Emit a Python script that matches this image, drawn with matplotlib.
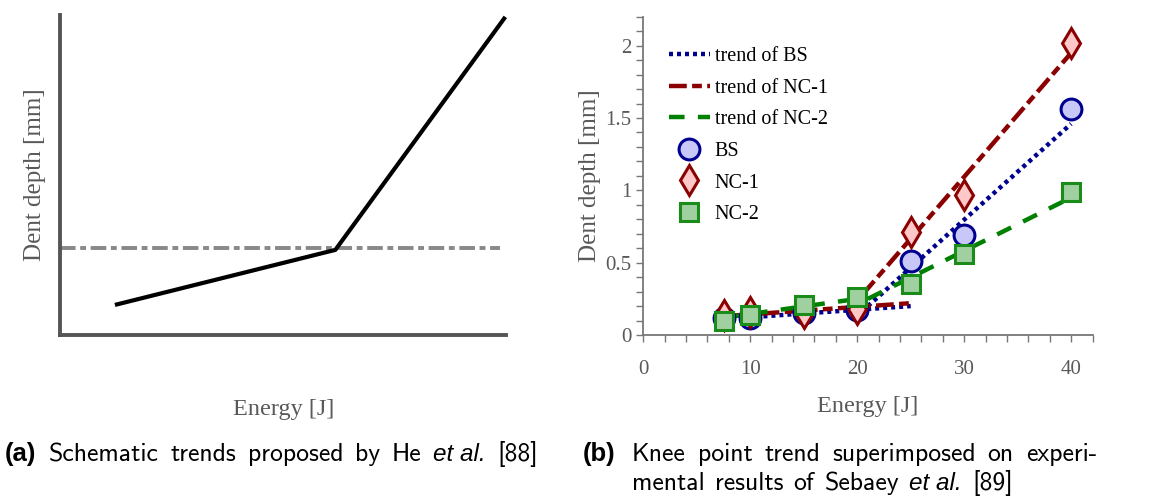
import matplotlib
matplotlib.use("Agg")
import matplotlib.pyplot as plt
import numpy as np
from matplotlib.ticker import MultipleLocator

plt.rcParams["font.family"] = ["Liberation Serif", "DejaVu Serif"]

# (a) schematic knee-point trend (arbitrary units)
schem_energy = [0.123, 0.617, 0.998]
schem_depth = [0.094, 0.266, 0.994]
threshold_depth = 0.272
threshold_x = [0.0, 0.987]

# (b) experimental results
energy = [7.5, 10, 15, 20, 25, 30, 40]
bs = [0.12, 0.12, 0.15, 0.17, 0.51, 0.69, 1.56]
nc1 = [0.14, 0.16, 0.15, 0.18, 0.71, 0.97, 2.02]
nc2 = [0.10, 0.14, 0.21, 0.26, 0.35, 0.56, 0.99]

# trend lines: lower segment, break, upper segment
trend_x_bs = [7.5, 25, np.nan, 21, 40]
trend_bs = [0.11, 0.20, np.nan, 0.20, 1.46]
trend_x_nc1 = [7.5, 25, np.nan, 20.5, 40]
trend_nc1 = [0.13, 0.22, np.nan, 0.28, 1.95]
trend_x_nc2 = [7.5, 21, np.nan, 21, 40]
trend_nc2 = [0.12, 0.26, np.nan, 0.25, 0.95]

gray = "#595959"
W, H = 1150, 498

fig = plt.figure(figsize=(W / 100, H / 100), dpi=100)

# ---- panel (a)
ax1 = fig.add_axes([0.0522, 0.3273, 0.388, 0.6426])
ax1.set_xlim(0, 1)
ax1.set_ylim(0, 1)
for s in ["top", "right"]:
    ax1.spines[s].set_visible(False)
for s in ["left", "bottom"]:
    ax1.spines[s].set_color("#555555")
    ax1.spines[s].set_linewidth(2.8)
ax1.set_xticks([])
ax1.set_yticks([])
ax1.plot(threshold_x, [threshold_depth] * 2, color="#888888", lw=2.8,
         dashes=(4, 1.2, 1.5, 1.2), clip_on=False)
ax1.plot(schem_energy, schem_depth, color="black", lw=3, clip_on=False,
         solid_capstyle="butt")
ax1.set_xlabel("Energy [J]", fontsize=17.5, color=gray, labelpad=46)
ax1.set_ylabel("Dent depth [mm]", fontsize=18, color=gray, labelpad=10)

# ---- panel (b)
ax2 = fig.add_axes([0.5594, 0.3273, 0.3906, 0.639])
ax2.set_xlim(0, 42)
ax2.set_ylim(0, 2.2)
for s in ["top", "right"]:
    ax2.spines[s].set_visible(False)
for s in ["left", "bottom"]:
    ax2.spines[s].set_color("#777777")
    ax2.spines[s].set_linewidth(1.3)
ax2.set_xticks([0, 10, 20, 30, 40])
ax2.set_yticks([0, 0.5, 1, 1.5, 2])
ax2.set_yticklabels(["0", "0.5", "1", "1.5", "2"])
ax2.xaxis.set_minor_locator(MultipleLocator(2))
ax2.yaxis.set_minor_locator(MultipleLocator(0.1))
ax2.tick_params(which="both", direction="out", length=5, width=1,
                color="#777777", labelcolor=gray, labelsize=15)
ax2.tick_params(axis="x", which="major", pad=13)

l1, = ax2.plot(trend_x_bs, trend_bs, color="#000090", lw=3.2,
               dashes=(0.9, 0.9), label="trend of BS")
l2, = ax2.plot(trend_x_nc1, trend_nc1, color="#8b0000", lw=3.2,
               dashes=(4, 1.2, 2.2, 1.2), label="trend of NC-1")
l3, = ax2.plot(trend_x_nc2, trend_nc2, color="#008000", lw=3.2,
               dashes=(3.5, 3), label="trend of NC-2")

m1, = ax2.plot(energy, bs, "o", ms=15, mfc="#c8c8f8", mec="#000090",
               mew=2.2, label="BS")
m2, = ax2.plot(energy, nc1, "d", ms=15, mfc="#ffc8c8", mec="#8b0000",
               mew=2.2, label="NC-1")
m3, = ax2.plot(energy, nc2, "s", ms=13, mfc="#a0cfa0", mec="#1a8c1a",
               mew=2.2, label="NC-2")

ax2.set_xlabel("Energy [J]", fontsize=17.5, color=gray, labelpad=12)
ax2.set_ylabel("Dent depth [mm]", fontsize=18, color=gray, labelpad=3)

ax2.legend(handles=[l1, l2, l3, m1, m2, m3], loc="upper left",
           bbox_to_anchor=(0.04, 0.93), frameon=False, fontsize=14.5,
           handlelength=2.0, handletextpad=0.25, labelspacing=0.62,
           borderaxespad=0)

# ---- captions, laid out word by word like the justified LaTeX text
renderer = fig.canvas.get_renderer()
cap_font = dict(family=["cmss10", "Liberation Sans"], fontsize=18.5)
bold_font = dict(family=["Liberation Sans"], fontsize=18.5, fontweight="bold")
ital_font = dict(family=["Liberation Sans"], fontsize=17.5, style="italic")


def caption_line(x0, baseline, words, x_end=None, gap=10):
    # words: list of (text, font props); optional justification to x_end
    items = []
    for txt, props in words:
        t = fig.text(0, 1 - baseline / H, txt, va="baseline", ha="left",
                     **props)
        items.append((t, t.get_window_extent(renderer).width))
    if x_end is not None and len(items) > 1:
        gap = (x_end - x0 - sum(w for _, w in items)) / (len(items) - 1)
    x = x0
    for t, w in items:
        t.set_x(x / W)
        x += w + gap


words_a = "Schematic trends proposed by He".split()
caption_line(5, 461, [("(a)", bold_font)])
caption_line(49, 461, [(w, cap_font) for w in words_a]
             + [("et al.", ital_font), ("[88]", cap_font)], x_end=538)

words_b1 = "Knee point trend superimposed on experi-".split()
caption_line(583, 461, [("(b)", bold_font)])
caption_line(632, 461, [(w, cap_font) for w in words_b1], x_end=1097)

words_b2 = "mental results of Sebaey".split()
caption_line(632, 490, [(w, cap_font) for w in words_b2]
             + [("et al.", ital_font), ("[89]", cap_font)], x_end=1013)

fig.savefig("out.png", dpi=100)
